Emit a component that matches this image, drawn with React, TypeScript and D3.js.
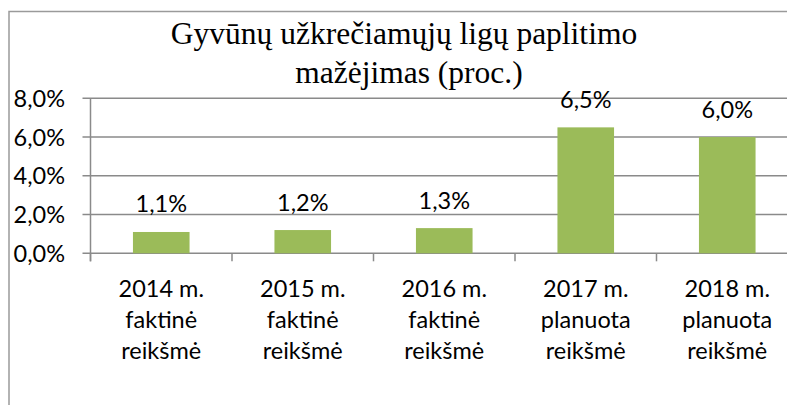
import React from "react";
import * as d3 from "d3";

const categories = ["2014 m.", "2015 m.", "2016 m.", "2017 m.", "2018 m."];
const categoryLines = [
  ["2014 m.", "faktinė", "reikšmė"],
  ["2015 m.", "faktinė", "reikšmė"],
  ["2016 m.", "faktinė", "reikšmė"],
  ["2017 m.", "planuota", "reikšmė"],
  ["2018 m.", "planuota", "reikšmė"],
];
const values = [0.011, 0.012, 0.013, 0.065, 0.06];
const yTicks = [0, 0.02, 0.04, 0.06, 0.08];
const titleLines = ["Gyvūnų užkrečiamųjų ligų paplitimo", "mažėjimas (proc.)"];

const W = 787;
const H = 405;
const plotLeft = 90.5;
const plotRight = 798;
const plotTop = 98.3;
const plotBottom = 253.3;
const sansFont = "Lato, 'Open Sans', sans-serif";
const fmt = (v: number) => (v * 100).toFixed(1).replace(".", ",") + "%";

export default function App() {
  const x = d3
    .scaleBand<string>()
    .domain(categories)
    .range([plotLeft, plotRight])
    .paddingInner(0.6)
    .paddingOuter(0.3);
  const y = d3.scaleLinear().domain([0, 0.08]).range([plotBottom, plotTop]);
  const step = x.step();
  const x0 = plotLeft;
  const gridColor = "#8a8a8a";

  return (
    <svg
      width={W}
      height={H}
      style={{ position: "absolute", left: 0, top: 0, background: "#fff" }}
    >
      <rect x={0} y={0} width={W} height={H} fill="#fff" />
      {/* outer frame */}
      <rect
        x={9}
        y={11.5}
        width={W + 50}
        height={H + 50}
        fill="none"
        stroke="#9a9a9a"
        strokeWidth={1.5}
      />
      {/* title */}
      <g fontFamily="'Liberation Serif', 'Times New Roman', serif" fontSize={31.5} fill="#000" textAnchor="middle">
        <text x={404} y={44}>{titleLines[0]}</text>
        <text x={409} y={82.5}>{titleLines[1]}</text>
      </g>
      {/* gridlines + y ticks */}
      {yTicks.map((t) => (
        <line
          key={t}
          x1={plotLeft - 8}
          x2={W + 10}
          y1={y(t)}
          y2={y(t)}
          stroke={gridColor}
          strokeWidth={1.5}
        />
      ))}
      {/* y axis */}
      <line x1={plotLeft} x2={plotLeft} y1={plotTop} y2={plotBottom + 8} stroke={gridColor} strokeWidth={1.5} />
      {/* category ticks */}
      {d3.range(categories.length + 1).map((i) => (
        <line
          key={i}
          x1={x0 + i * step}
          x2={x0 + i * step}
          y1={plotBottom}
          y2={plotBottom + 8}
          stroke={gridColor}
          strokeWidth={1.5}
        />
      ))}
      {/* y tick labels */}
      <g fontFamily={sansFont} fontSize={23.5} fill="#000" textAnchor="end">
        {yTicks.map((t) => (
          <text key={t} x={65} y={y(t)} dy="0.36em">
            {fmt(t)}
          </text>
        ))}
      </g>
      {/* bars */}
      {values.map((v, i) => (
        <rect
          key={i}
          x={x(categories[i])!}
          y={y(v)}
          width={x.bandwidth()}
          height={plotBottom - y(v)}
          fill="#9bbb59"
        />
      ))}
      {/* data labels */}
      <g fontFamily={sansFont} fontSize={23.5} fill="#000" textAnchor="middle">
        {values.map((v, i) => (
          <text key={i} x={x(categories[i])! + x.bandwidth() / 2} y={y(v) - 19.5}>
            {fmt(v)}
          </text>
        ))}
      </g>
      {/* category labels */}
      <g fontFamily={sansFont} fontSize={23.5} fill="#000" textAnchor="middle">
        {categoryLines.map((lines, i) => (
          <text key={i} x={x(categories[i])! + x.bandwidth() / 2} y={296.5}>
            {lines.map((l, j) => (
              <tspan key={j} x={x(categories[i])! + x.bandwidth() / 2} y={296.5 + j * 31.3}>
                {l}
              </tspan>
            ))}
          </text>
        ))}
      </g>
    </svg>
  );
}
